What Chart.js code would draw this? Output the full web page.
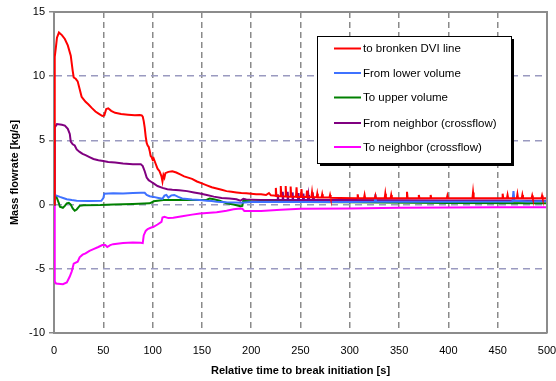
<!DOCTYPE html>
<html>
<head>
<meta charset="utf-8">
<script src="https://cdn.jsdelivr.net/npm/chart.js@4"></script>
<style>
html,body{margin:0;padding:0;background:#fff;}
#wrap{width:556px;height:381px;position:relative;}
</style>
</head>
<body>
<div id="wrap"><canvas id="c" width="556" height="381"></canvas></div>
<script>
// ---- data ----
const seriesLabels = ["to bronken DVI line","From lower volume","To upper volume","From neighbor (crossflow)","To neighbor (crossflow)"];
const xTicks = [0,50,100,150,200,250,300,350,400,450,500];
const yTicks = [-10,-5,0,5,10,15];

const redT = [0,0.5,1,2,3,5,8,11,14,17,19,20,22,24,26,28,30,32,35,38,42,46,49,51,53,55,58,62,68,75,82,87,89,90,91,92,93,94,95,96,97,98,99,100,101,103,105,107,109,110,111,112,113,116,120,124,128,132,136,140,145,150,155,160,165,170,175,180,185,190,195,200,205,210,215,218,220,223,
  224.4,225,225.6,229.4,230,230.6,234.4,235,235.6,239.4,240,240.6,245.4,246,246.6,250.4,251,251.6,256,256.6,257.2,261.1,261.7,262.3,266.4,267,267.6,271.4,272,272.6,279.4,280,280.6,
  290,307.4,308,308.6,314.4,315,315.6,325.4,326,326.6,335.4,336,336.6,341.4,342,342.6,357.4,358,358.6,369.4,370,370.6,381.4,382,382.6,398.4,399,399.6,424.4,425,425.6,454.4,455,455.6,459.4,460,460.6,469.4,470,470.6,474.4,475,475.6,484.4,485,485.6,494.4,495,495.6,500];
const redV = [0,6,11.5,12.3,13.0,13.4,13.2,12.9,12.4,11.6,10.4,9.9,9.8,9.6,9.0,8.4,8.2,8.0,7.8,7.55,7.25,7.05,6.9,6.95,7.45,7.5,7.3,7.15,7.05,7.0,6.95,6.98,6.95,6.85,6.5,6.0,5.3,4.8,4.6,4.5,4.2,3.8,3.7,3.5,3.6,3.2,2.8,2.6,2.2,1.8,2.3,2.1,2.45,2.55,2.6,2.5,2.35,2.2,2.1,2.0,1.8,1.65,1.5,1.35,1.25,1.15,1.05,1.0,0.95,0.9,0.88,0.85,0.8,0.8,0.75,0.9,0.72,0.7,
  0.68,1.3,0.66,0.65,1.45,0.65,0.64,1.45,0.63,0.62,1.4,0.62,0.61,1.35,0.6,0.6,1.2,0.6,0.59,1.1,0.58,0.58,0.95,0.57,0.57,0.85,0.56,0.56,0.8,0.55,0.55,0.75,0.54,
  0.52,0.5,0.8,0.5,0.5,0.75,0.5,0.5,0.7,0.5,0.5,0.85,0.5,0.5,0.75,0.5,0.5,1.0,0.5,0.5,0.75,0.5,0.5,0.75,0.5,0.5,0.7,0.5,0.5,0.95,0.5,0.5,0.85,0.5,0.5,0.75,0.5,0.5,0.8,0.5,0.5,0.75,0.5,0.5,0.7,0.5,0.5,0.7,0.5,0.5];

const blueT = [0,0.5,2,6,10,13,18,23,35,48,50,51,60,70,80,88,92,94,97,101,106,110,112,114,116,119,122,126,130,140,148,155,160,165,175,190,200,250,300,325.4,326,326.6,400,465,466,467,480,500];
const blueV = [0,0.75,0.72,0.6,0.5,0.42,0.35,0.3,0.28,0.3,0.5,0.85,0.88,0.86,0.9,0.92,0.92,0.75,0.65,0.6,0.52,0.45,0.7,0.75,0.55,0.72,0.75,0.6,0.48,0.4,0.35,0.3,0.28,0.22,0.18,0.15,0.2,0.2,0.2,0.22,0.8,0.22,0.22,0.25,1.05,0.3,0.25,0.27];

const greenT = [0,0.5,2,3,5,6,9,11,13,15,17,19,21,23,26,30,47,60,80,97,100,101,105,111,130,148,155,158,162,168,175,182,189,191,192,200,250,300,400,500];
const greenV = [0,0.7,0.65,0.5,0.1,-0.17,-0.25,-0.1,0.1,0.14,0.0,-0.3,-0.48,-0.38,-0.1,-0.05,-0.04,0.0,0.04,0.1,0.2,0.27,0.3,0.35,0.35,0.35,0.38,0.48,0.42,0.3,0.1,0.0,-0.12,-0.1,0.3,0.25,0.2,0.18,0.12,0.1];

const purpleT = [0,0.5,1,3,8,11,14,16,17,19,21,23,26,29,32,36,40,45,50,55,62,70,80,88,90,92,94,96,98,101,105,110,115,120,127,135,142,148,155,162,170,178,185,189,192,195,200,210,220,
  226.4,227,227.6,231.4,232,232.6,236.4,237,237.6,241.4,242,242.6,247.4,248,248.6,252.4,253,253.6,257.4,258,258.6,262.4,263,263.6,280,300,350,400,450,500];
const purpleV = [0,4,6.0,6.27,6.22,6.15,5.9,5.5,4.9,4.7,4.6,4.3,4.1,3.95,3.85,3.7,3.55,3.45,3.4,3.32,3.28,3.2,3.15,3.15,3.0,2.6,2.1,1.9,1.8,1.65,1.45,1.3,1.2,1.15,1.12,1.05,0.95,0.87,0.75,0.62,0.52,0.48,0.42,0.3,0.45,0.4,0.38,0.35,0.35,
  0.35,0.8,0.35,0.35,1.0,0.35,0.35,1.0,0.35,0.35,0.95,0.35,0.35,0.9,0.35,0.35,0.85,0.35,0.35,0.75,0.35,0.35,0.6,0.35,0.35,0.35,0.33,0.32,0.32,0.3];

const magentaT = [0,0.5,1,2,9,13,16,18,19,20,24,26,29,32,36,40,45,49,52,54,57,60,70,80,88,90,91,93,95,98,101,105,109,110,112,116,121,130,140,148,155,165,175,182,189,191,193,210,230,250,300,350,400,450,500];
const magentaV = [0,-5,-6.0,-6.14,-6.2,-6.06,-5.6,-5.2,-4.9,-4.6,-4.45,-4.1,-3.9,-3.8,-3.6,-3.47,-3.3,-3.15,-3.15,-3.3,-3.15,-3.08,-3.0,-2.95,-2.98,-3.0,-2.4,-2.05,-1.9,-1.8,-1.73,-1.55,-1.35,-1.0,-0.95,-1.05,-1.03,-0.9,-0.78,-0.69,-0.65,-0.6,-0.48,-0.37,-0.3,-0.32,-0.5,-0.5,-0.4,-0.32,-0.3,-0.25,-0.22,-0.2,-0.2];

const seriesColors = ["#ff0000","#3f72ff","#008000","#800080","#ff00ff"];

// ---- build datasets ----
function zip(t, v){ return t.map((x,i)=>({x:x, y:v[i]})); }
const allT = [redT, blueT, greenT, purpleT, magentaT];
const allV = [redV, blueV, greenV, purpleV, magentaV];
const datasets = seriesLabels.map((lab,i)=>({
  label: lab,
  data: zip(allT[i], allV[i]),
  borderColor: seriesColors[i],
  backgroundColor: seriesColors[i],
  borderWidth: 2,
  pointRadius: 0,
  tension: 0,
  fill: false
}));

const FONT = "'Liberation Sans', Arial, sans-serif";

const framePlugin = {
  id: 'frame',
  afterDraw(chart){
    const ctx = chart.ctx;
    const a = chart.chartArea;
    ctx.save();
    // top and right border
    ctx.strokeStyle = '#8c8c8c';
    ctx.lineWidth = 2;
    ctx.beginPath();
    ctx.moveTo(a.left, a.top); ctx.lineTo(a.right, a.top); ctx.lineTo(a.right, a.bottom);
    ctx.stroke();
    // legend box
    const bx = 317, by = 36, bw = 194, bh = 127;
    ctx.fillStyle = '#000';
    ctx.fillRect(bx+3, by+3, bw, bh);
    ctx.fillStyle = '#fff';
    ctx.fillRect(bx, by, bw, bh);
    ctx.strokeStyle = '#000';
    ctx.lineWidth = 1;
    ctx.strokeRect(bx+0.5, by+0.5, bw, bh);
    const rows = [48.5, 73, 97.5, 123, 147];
    ctx.font = '11.5px ' + FONT;
    ctx.textBaseline = 'middle';
    ctx.textAlign = 'left';
    chart.data.datasets.forEach((ds,i)=>{
      ctx.strokeStyle = ds.borderColor;
      ctx.lineWidth = 2;
      ctx.beginPath();
      ctx.moveTo(334, rows[i]); ctx.lineTo(361, rows[i]);
      ctx.stroke();
      ctx.fillStyle = '#000';
      ctx.fillText(ds.label, 363, rows[i]+0.5);
    });
    ctx.restore();
  }
};

new Chart(document.getElementById('c'), {
  type: 'line',
  data: { datasets },
  plugins: [framePlugin],
  options: {
    responsive: false,
    animation: false,
    devicePixelRatio: 1,
    parsing: true,
    layout: { padding: { top: 12, right: 0, left: 0, bottom: 0 } },
    plugins: { legend: { display: false }, tooltip: { enabled: false } },
    scales: {
      x: {
        type: 'linear', min: 0, max: 500,
        afterBuildTicks(s){ s.ticks = xTicks.map(v=>({value:v})); },
        afterFit(s){ s.height = 48; s.paddingRight = 9; },
        ticks: { color: '#000', font: { family: FONT, size: 11 }, padding: 11, maxRotation: 0 },
        grid: {
          color: c => (c.tick && (c.tick.value === 0 || c.tick.value === 500)) ? 'rgba(0,0,0,0)' : '#8a8a8a',
          lineWidth: 1.5,
          drawTicks: false
        },
        border: { display: true, color: '#8c8c8c', width: 2, dash: [6,4] },
        title: { display: true, text: 'Relative time to break initiation [s]', color: '#000', font: { family: FONT, size: 11, weight: 'bold' }, padding: { top: 0, bottom: 3 } }
      },
      y: {
        type: 'linear', min: -10, max: 15,
        afterBuildTicks(s){ s.ticks = yTicks.map(v=>({value:v})); },
        afterFit(s){ s.width = 54; },
        ticks: { color: '#000', font: { family: FONT, size: 11 }, padding: 4 },
        grid: {
          color: c => (c.tick && (c.tick.value === -10 || c.tick.value === 15)) ? 'rgba(0,0,0,0)' : '#9a9ac0',
          lineWidth: 1.5,
          tickColor: '#8a8a8a', tickLength: 5, tickBorderDash: [], tickWidth: 1.5
        },
        border: { display: true, color: '#8c8c8c', width: 2, dash: [7,5] },
        title: { display: true, text: 'Mass flowrate [kg/s]', color: '#000', font: { family: FONT, size: 11, weight: 'bold' }, padding: { top: 8, bottom: 0 } }
      }
    }
  }
});
</script>
</body>
</html>
